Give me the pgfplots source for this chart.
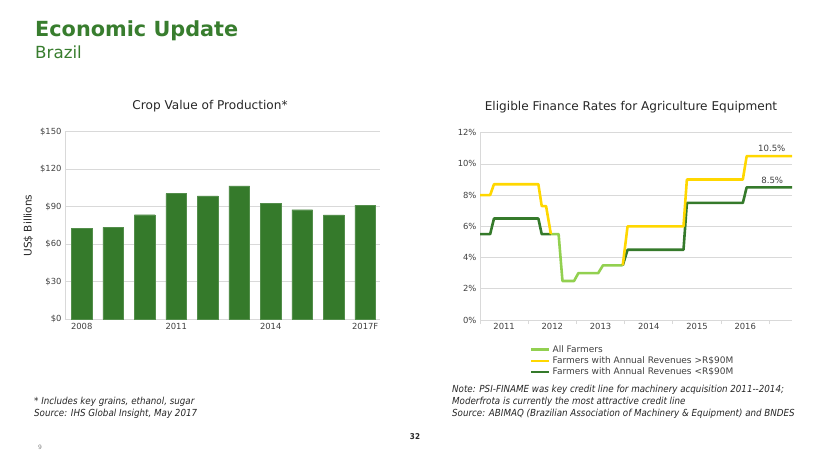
\documentclass[border=0pt]{standalone}
\usepackage{pgfplots}
\pgfplotsset{compat=1.18}
\usepackage{fontspec}
\setmainfont{DejaVu Sans}
\newfontfamily\condfont{DejaVu Sans Condensed}
\definecolor{barGreen}{RGB}{53,122,43}
\definecolor{titleGreen}{RGB}{56,125,46}
\definecolor{lineYellow}{RGB}{255,215,0}
\definecolor{lightGreen}{RGB}{146,208,80}
\definecolor{darkLine}{RGB}{53,122,43}
\definecolor{txt}{RGB}{64,64,64}
\definecolor{gridc}{RGB}{217,217,217}
\begin{document}
\begin{tikzpicture}[x=1pt,y=1pt]
\useasboundingbox (0,0) rectangle (830,467);
% Titles
\node[anchor=west, text=titleGreen, font=\fontsize{20.8}{22}\selectfont\bfseries, inner sep=0] at (35,436) {Economic Update};
\node[anchor=west, text=titleGreen, font=\fontsize{16.7}{18}\selectfont, inner sep=0] at (35,415) {Brazil};
% Chart titles
\node[text=black!85, font=\fontsize{12.1}{14}\selectfont] at (210,361) {Crop Value of Production*};
\node[text=black!85, font=\fontsize{12.1}{14}\selectfont] at (631,360) {Eligible Finance Rates for Agriculture Equipment};
% Left chart
\begin{axis}[at={(65pt,147.7pt)}, anchor=south west, scale only axis,
  width=315pt, height=187.6pt,
  xmin=-0.53, xmax=9.47, ymin=0, ymax=150,
  ytick={0,30,60,90,120,150}, yticklabels={\$0,\$30,\$60,\$90,\$120,\$150},
  xtick={0,3,6,9}, xticklabels={2008,2011,2014,2017F},
  ymajorgrids, grid style={gridc, line width=0.8pt},
  axis x line*=bottom, axis y line*=left,
  axis line style={gridc, line width=0.8pt},
  major tick length=0pt,
  ticklabel style={font=\fontsize{8.4}{10}\selectfont, text=txt},
  ylabel={US\$ Billions}, ylabel style={font=\fontsize{10.5}{12}\selectfont, text=black!85},
  clip=false]
\addplot[ybar, bar width=20.7pt, fill=barGreen, draw=barGreen!85!white, line width=0.4pt]
  coordinates {(0,72.5) (1,73.5) (2,83.6) (3,100.5) (4,98.7) (5,106.6) (6,92.5) (7,87.6) (8,83.4) (9,91.2)};
\end{axis}
% Right chart
\begin{axis}[at={(480pt,147pt)}, anchor=south west, scale only axis,
  width=312pt, height=187.3pt,
  xmin=0, xmax=6.47, ymin=0, ymax=12,
  ytick={0,2,4,6,8,10,12}, yticklabels={0\%,2\%,4\%,6\%,8\%,10\%,12\%},
  xtick={0.5,1.5,2.5,3.5,4.5,5.5}, xticklabels={2011,2012,2013,2014,2015,2016},
  extra x ticks={0,1,2,3,4,5,6}, extra x tick labels={},
  extra x tick style={major tick length=4pt, tick align=outside, tick style={gridc, line width=0.8pt}, grid=none},
  ymajorgrids, grid style={gridc, line width=0.8pt},
  axis x line*=bottom, axis y line*=left,
  axis line style={gridc, line width=0.8pt},
  major tick length=0pt,
  ticklabel style={font=\fontsize{8.4}{10}\selectfont, text=txt},
  unbounded coords=jump,
  legend style={at={(0.16,-0.125)}, anchor=north west, draw=none, fill=none,
    font=\fontsize{9}{10.5}\selectfont, text=txt, row sep=-1.2pt, inner sep=0pt,
    legend cell align=left, /tikz/every even column/.append style={column sep=1pt}},
  legend image code/.code={\draw[#1] (0pt,0pt) -- (18pt,0pt);},
  clip=false]
\addlegendimage{lightGreen, line width=2.6pt}
\addlegendentry{All Farmers}
\addlegendimage{lineYellow, line width=2.6pt}
\addlegendentry{Farmers with Annual Revenues >R\$90M}
\addlegendimage{darkLine, line width=2.6pt}
\addlegendentry{Farmers with Annual Revenues <R\$90M}
\addplot[forget plot, lightGreen, line width=2.6pt, line join=round] coordinates {
  (1.47,5.5) (1.63,5.5) (1.71,2.5) (1.95,2.5) (2.04,3.0) (2.45,3.0) (2.55,3.5) (2.96,3.5)};
\addplot[forget plot, darkLine, line width=2.6pt, line join=round] coordinates {
  (0,5.5) (0.21,5.5) (0.29,6.5) (1.21,6.5) (1.28,5.5) (1.47,5.5) (2.2,nan)
  (2.96,3.5) (3.06,4.5) (4.22,4.5) (4.29,7.5) (5.45,7.5) (5.53,8.5) (6.47,8.5)};
\addplot[forget plot, lineYellow, line width=2.6pt, line join=round] coordinates {
  (0,8) (0.21,8) (0.29,8.7) (1.21,8.7) (1.28,7.3) (1.37,7.3) (1.47,5.5) (2.2,nan)
  (2.96,3.5) (3.06,6) (4.22,6) (4.29,9) (5.45,9) (5.53,10.5) (6.47,10.5)};
\node[font=\fontsize{8.6}{10}\selectfont, text=txt] at (axis cs:6.05,11.0) {10.5\%};
\node[font=\fontsize{8.6}{10}\selectfont, text=txt] at (axis cs:6.06,8.97) {8.5\%};
\end{axis}
% Footnotes
\begin{scope}[every node/.style={anchor=west, inner sep=0, font=\condfont\itshape\fontsize{9.7}{11}\selectfont, text=black!85}]
\node at (34,65) {* Includes key grains, ethanol, sugar};
\node at (34,53) {Source: IHS Global Insight, May 2017};
\node at (452,77) {Note: PSI-FINAME was key credit line for machinery acquisition 2011--2014;};
\node at (452,65) {Moderfrota is currently the most attractive credit line};
\node at (452,53) {Source: ABIMAQ (Brazilian Association of Machinery \& Equipment) and BNDES};
\end{scope}
\node[font=\condfont\bfseries\fontsize{8}{9}\selectfont, text=black!85] at (415,30) {32};
\node[font=\fontsize{6}{7}\selectfont, text=black!50] at (40,20) {9};
\end{tikzpicture}
\end{document}
